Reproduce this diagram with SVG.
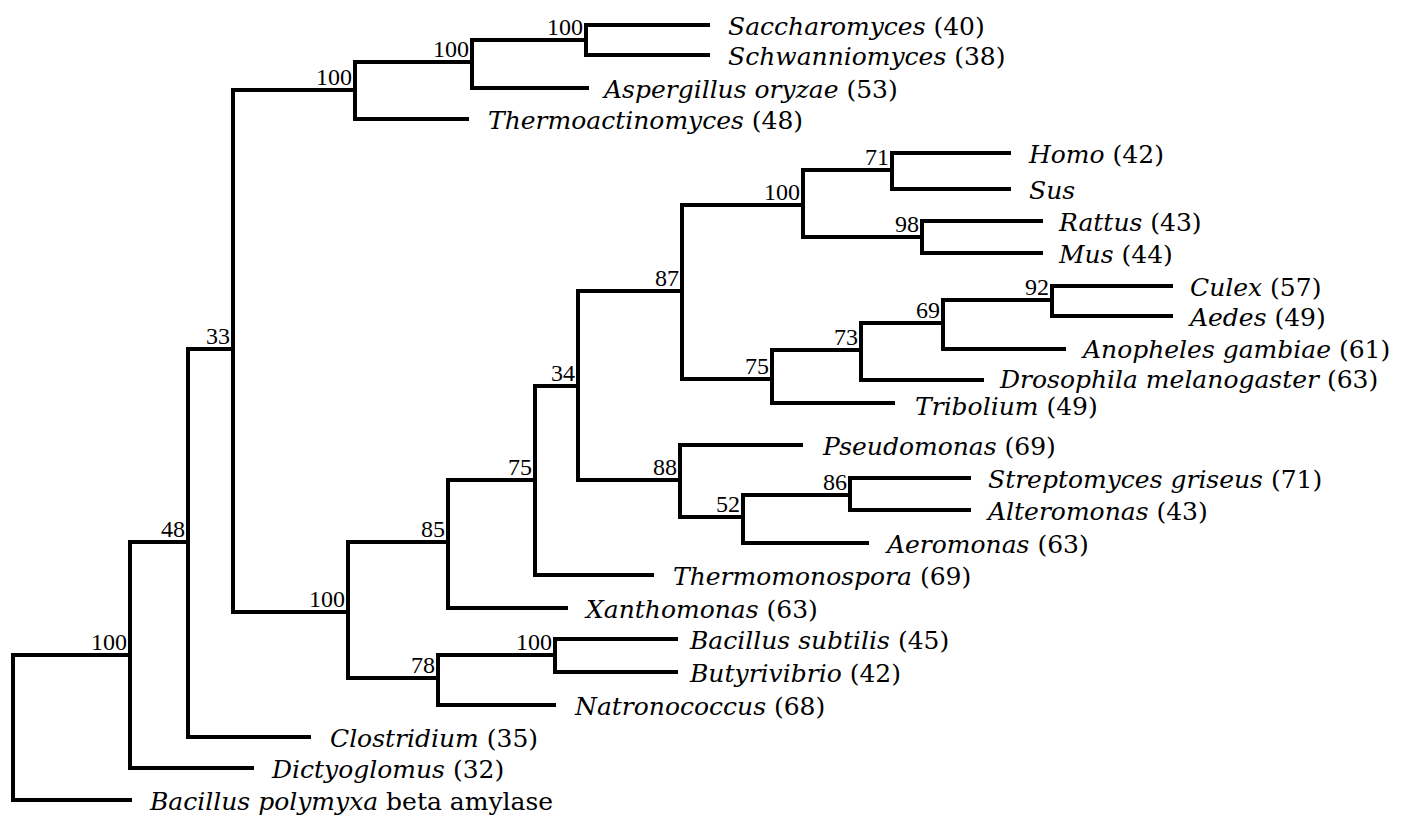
<svg xmlns="http://www.w3.org/2000/svg" width="1428" height="818" viewBox="0 0 1428 818">
<style>
.e{fill:none;stroke:#000;stroke-width:4;stroke-linecap:square;stroke-linejoin:miter}
.n{font-family:"DejaVu Serif","Liberation Serif",serif;font-size:25px;font-style:italic;fill:#000}
.r{font-style:normal}
.b{font-family:"Liberation Serif",serif;font-size:24px;text-anchor:end;fill:#000}
</style>
<rect width="1428" height="818" fill="#fff"/>
<g id="connectors">
<path class="e" d="M130,655 H13 V800 H130"/>
<path class="e" d="M188,542 H130 V768 H252"/>
<path class="e" d="M233,349 H188 V737 H309"/>
<path class="e" d="M355,90 H233 V612 H348"/>
<path class="e" d="M472,62 H355 V119 H467"/>
<path class="e" d="M586,40 H472 V88 H587"/>
<path class="e" d="M708,25 H586 V55 H708"/>
<path class="e" d="M448,542 H348 V678 H438"/>
<path class="e" d="M535,480 H448 V608 H566"/>
<path class="e" d="M578,386 H535 V575 H652"/>
<path class="e" d="M682,291 H578 V480 H680"/>
<path class="e" d="M803,205 H682 V379 H772"/>
<path class="e" d="M892,170 H803 V237 H922"/>
<path class="e" d="M1009,153 H892 V189 H1009"/>
<path class="e" d="M1041,221 H922 V253 H1041"/>
<path class="e" d="M861,350 H772 V403 H893"/>
<path class="e" d="M943,323 H861 V380 H982"/>
<path class="e" d="M1052,300 H943 V349 H1064"/>
<path class="e" d="M1171,286 H1052 V316 H1171"/>
<path class="e" d="M801,445 H680 V517 H743"/>
<path class="e" d="M850,495 H743 V543 H867"/>
<path class="e" d="M969,478 H850 V510 H969"/>
<path class="e" d="M554,655 H438 V705 H554"/>
<path class="e" d="M676,639 H555 V672 H676"/>
</g>
<g id="support">
<text class="b" x="127" y="650">100</text>
<text class="b" x="185" y="537">48</text>
<text class="b" x="230" y="344">33</text>
<text class="b" x="352" y="85">100</text>
<text class="b" x="469" y="57">100</text>
<text class="b" x="583" y="35">100</text>
<text class="b" x="345" y="607">100</text>
<text class="b" x="445" y="537">85</text>
<text class="b" x="532" y="475">75</text>
<text class="b" x="575" y="381">34</text>
<text class="b" x="679" y="286">87</text>
<text class="b" x="800" y="200">100</text>
<text class="b" x="889" y="165">71</text>
<text class="b" x="919" y="232">98</text>
<text class="b" x="769" y="374">75</text>
<text class="b" x="858" y="345">73</text>
<text class="b" x="940" y="318">69</text>
<text class="b" x="1049" y="295">92</text>
<text class="b" x="677" y="475">88</text>
<text class="b" x="740" y="512">52</text>
<text class="b" x="847" y="490">86</text>
<text class="b" x="435" y="673">78</text>
<text class="b" x="552" y="650">100</text>
</g>
<g id="saccharomyces"><text class="n" x="728" y="35">Saccharomyces <tspan class="r">(40)</tspan></text></g>
<g id="schwanniomyces"><text class="n" x="728" y="65">Schwanniomyces <tspan class="r">(38)</tspan></text></g>
<g id="aspergillus"><text class="n" x="604" y="98">Aspergillus oryzae <tspan class="r">(53)</tspan></text></g>
<g id="thermoactinomyces"><text class="n" x="488" y="129">Thermoactinomyces <tspan class="r">(48)</tspan></text></g>
<g id="homo"><text class="n" x="1029" y="163">Homo <tspan class="r">(42)</tspan></text></g>
<g id="sus"><text class="n" x="1029" y="199">Sus</text></g>
<g id="rattus"><text class="n" x="1059" y="231">Rattus <tspan class="r">(43)</tspan></text></g>
<g id="mus"><text class="n" x="1059" y="263">Mus <tspan class="r">(44)</tspan></text></g>
<g id="culex"><text class="n" x="1190" y="296">Culex <tspan class="r">(57)</tspan></text></g>
<g id="aedes"><text class="n" x="1190" y="326">Aedes <tspan class="r">(49)</tspan></text></g>
<g id="anopheles"><text class="n" x="1083" y="358">Anopheles gambiae <tspan class="r">(61)</tspan></text></g>
<g id="drosophila"><text class="n" x="1000" y="388">Drosophila melanogaster <tspan class="r">(63)</tspan></text></g>
<g id="tribolium"><text class="n" x="915" y="415">Tribolium <tspan class="r">(49)</tspan></text></g>
<g id="pseudomonas"><text class="n" x="823" y="455">Pseudomonas <tspan class="r">(69)</tspan></text></g>
<g id="streptomyces"><text class="n" x="988" y="488">Streptomyces griseus <tspan class="r">(71)</tspan></text></g>
<g id="alteromonas"><text class="n" x="988" y="520">Alteromonas <tspan class="r">(43)</tspan></text></g>
<g id="aeromonas"><text class="n" x="887" y="553">Aeromonas <tspan class="r">(63)</tspan></text></g>
<g id="thermomonospora"><text class="n" x="673" y="585">Thermomonospora <tspan class="r">(69)</tspan></text></g>
<g id="xanthomonas"><text class="n" x="586" y="618">Xanthomonas <tspan class="r">(63)</tspan></text></g>
<g id="bsubtilis"><text class="n" x="690" y="649">Bacillus subtilis <tspan class="r">(45)</tspan></text></g>
<g id="butyrivibrio"><text class="n" x="690" y="682">Butyrivibrio <tspan class="r">(42)</tspan></text></g>
<g id="natronococcus"><text class="n" x="575" y="715">Natronococcus <tspan class="r">(68)</tspan></text></g>
<g id="clostridium"><text class="n" x="330" y="747">Clostridium <tspan class="r">(35)</tspan></text></g>
<g id="dictyoglomus"><text class="n" x="272" y="778">Dictyoglomus <tspan class="r">(32)</tspan></text></g>
<g id="bpolymyxa"><text class="n" x="150" y="810">Bacillus polymyxa <tspan class="r">beta amylase</tspan></text></g>
</svg>
